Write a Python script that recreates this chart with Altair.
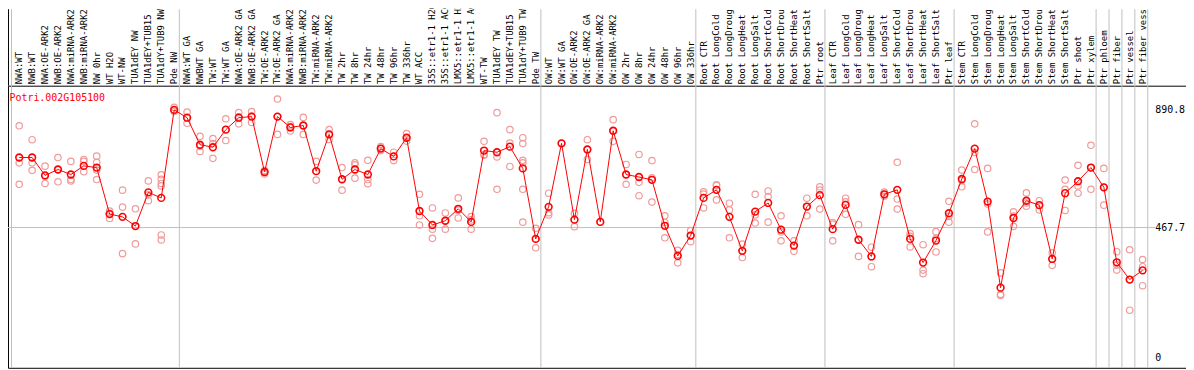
import altair as alt
import pandas as pd

labels = [
    "NWA:WT", "NWB:WT", "NWA:OE-ARK2", "NWB:OE-ARK2", "NWA:miRNA-ARK2", "NWB:miRNA-ARK2",
    "NW 0hr", "WT H2O", "WT-NW", "TUA1dEY NW", "TUA1dEY+TUB15", "TUA1dY+TUB9 NW", "Pde NW",
    "NWA:WT GA", "NWBWT GA", "TW:WT", "TW:WT GA", "NWA:OE-ARK2 GA", "NWB:OE-ARK2 GA",
    "TW:OE-ARK2", "TW:OE-ARK2 GA", "NWA:miRNA-ARK2", "NWB:miRNA-ARK2", "TW:miRNA-ARK2",
    "TW:miRNA-ARK2", "TW 2hr", "TW 8hr", "TW 24hr", "TW 48hr", "TW 96hr", "TW 336hr",
    "WT ACC", "35S::etr1-1 H2O", "35S::etr1-1 ACC", "LMX5::etr1-1 H2O", "LMX5::etr1-1 ACC",
    "WT-TW", "TUA1dEY TW", "TUA1dEY+TUB15", "TUA1dY+TUB9 TW", "Pde TW",
    "OW:WT", "OW:WT GA", "OW:OE-ARK2", "OW:OE-ARK2 GA", "OW:miRNA-ARK2", "OW:miRNA-ARK2",
    "OW 2hr", "OW 8hr", "OW 24hr", "OW 48hr", "OW 96hr", "OW 336hr",
    "Root CTR", "Root LongCold", "Root LongDroug", "Root LongHeat", "Root LongSalt",
    "Root ShortCold", "Root ShortDrou", "Root ShortHeat", "Root ShortSalt", "Ptr root",
    "Leaf CTR", "Leaf LongCold", "Leaf LongDroug", "Leaf LongHeat", "Leaf LongSalt",
    "Leaf ShortCold", "Leaf ShortDrou", "Leaf ShortHeat", "Leaf ShortSalt", "Ptr leaf",
    "Stem CTR", "Stem LongCold", "Stem LongDroug", "Stem LongHeat", "Stem LongSalt",
    "Stem ShortCold", "Stem ShortDrou", "Stem ShortHeat", "Stem ShortSalt", "Ptr shoot",
    "Ptr xylem", "Ptr phloem", "Ptr fiber", "Ptr vessel", "Ptr fiber vess",
]

means = [
    719, 719, 655, 676, 658, 689, 683, 516, 506, 473, 594, 574, 890,
    862, 765, 756, 819, 862, 866, 667, 866, 827, 834, 670, 802, 641, 676, 658,
    751, 723, 790, 527, 477, 492, 535, 488, 744, 738, 758, 680, 427,
    542, 770, 496, 748, 488, 815, 658, 649, 639, 474, 366, 439,
    574, 603, 506, 384, 525, 556, 460, 403, 543, 584,
    462, 549, 424, 364, 587, 603, 427, 342, 421, 519,
    642, 751, 561, 252, 502, 564, 548, 355, 591, 634, 683,
    612, 343, 281, 314,
]

replicates = [
    [833, 700, 623], [783, 700, 673], [688, 652, 626], [719, 676, 632],
    [705, 640, 635], [712, 705, 668], [724, 702, 674, 640], [527, 519, 500],
    [602, 541, 374], [535, 473, 409], [635, 585, 564], [657, 641, 626, 617, 441, 423],
    [899, 890, 884], [882, 862, 842], [795, 760, 741], [787, 769, 716],
    [858, 819, 780], [880, 865, 840], [884, 868, 845], [672, 667, 660],
    [929, 866, 802], [837, 830, 814], [863, 834, 802], [705, 670, 638],
    [819, 802, 784], [683, 640, 602], [700, 693, 645], [709, 640, 625],
    [758, 751, 744], [738, 723, 708], [805, 790, 778], [587, 510, 477],
    [538, 462, 429], [520, 492, 462], [574, 530, 502], [507, 495, 462],
    [777, 730, 727], [880, 721, 605], [819, 771, 687], [790, 769, 709, 700, 605, 487],
    [465, 427, 395], [591, 521, 513], [770], [519, 496, 471],
    [783, 748, 712], [488], [855, 815, 777], [694, 658, 623],
    [730, 630, 582], [708, 646, 559], [510, 486, 431], [386, 371, 341],
    [457, 439, 417], [596, 588, 538], [621, 619, 567], [555, 531, 431],
    [408, 384, 360], [587, 513, 484], [599, 579, 487], [510, 452, 420],
    [420, 403, 383], [573, 543, 510], [614, 602, 534], [486, 480, 420],
    [573, 560, 515], [478, 424, 364], [397, 364, 327], [595, 587, 580],
    [702, 570, 534], [446, 436, 398], [406, 315, 302], [453, 428, 380],
    [562, 508, 487], [674, 637, 614], [840, 737, 676], [680, 552, 452],
    [305, 228, 224], [524, 509, 472], [592, 556, 544], [564, 548, 531],
    [377, 355, 332], [638, 605, 529], [691, 617, 591], [763, 683, 605],
    [680, 612, 548], [381, 333, 315], [388, 281, 171], [353, 327, 259],
]

group_starts = [0, 13, 41, 53, 63, 73, 84, 85, 86, 87, 88]
axis_values = [890.8, 467.7, 0]
axis_texts = ["890.8", "467.7", "0"]
gene_name = "Potri.002G105100"

mean_df = pd.DataFrame({"idx": list(range(len(labels))), "label": labels, "value": means})
rep_rows = []
for i, reps in enumerate(replicates):
    for v in reps:
        rep_rows.append({"idx": i, "value": v})
rep_df = pd.DataFrame(rep_rows)
bound_df = pd.DataFrame({"b": [g - 0.6 for g in group_starts]})
yl_df = pd.DataFrame({"value": axis_values, "text": axis_texts})

MONO = "DejaVu Sans Mono"
xs = alt.Scale(domain=[-0.869, 90.362], nice=False, zero=False)
ys = alt.Scale(domain=[-35.65, 976.8], nice=False, zero=False)

vlines = alt.Chart(bound_df).mark_rule(color="#c0c0c0", strokeWidth=1).encode(
    x=alt.X("b:Q", scale=xs, axis=None),
    y=alt.value(-77),
    y2=alt.value(284),
)

hline = alt.Chart(pd.DataFrame({"value": [467.7]})).mark_rule(color="#c0c0c0", strokeWidth=1).encode(
    y=alt.Y("value:Q", scale=ys, axis=None),
    x=alt.value(0),
    x2=alt.value(1155),
)

left_border = alt.Chart(pd.DataFrame({"value": [0]})).mark_rule(color="black", strokeWidth=1).encode(
    x=alt.value(0.5),
    y=alt.value(-77),
    y2=alt.value(0),
)

rep_pts = alt.Chart(rep_df).mark_point(
    shape="circle", filled=False, color="#f09a9a", strokeWidth=1.2, size=42, opacity=1
).encode(
    x=alt.X("idx:Q", scale=xs, axis=None),
    y=alt.Y("value:Q", scale=ys, axis=None),
)

line = alt.Chart(mean_df).mark_line(color="#ff0000", strokeWidth=1).encode(
    x=alt.X("idx:Q", scale=xs, axis=None),
    y=alt.Y("value:Q", scale=ys, axis=None),
    order="idx:Q",
)

mean_pts = alt.Chart(mean_df).mark_point(
    shape="circle", filled=False, color="#ff0000", strokeWidth=1.6, size=46, opacity=1
).encode(
    x=alt.X("idx:Q", scale=xs, axis=None),
    y=alt.Y("value:Q", scale=ys, axis=None),
)

top_labels = alt.Chart(mean_df).mark_text(
    angle=270, align="left", baseline="middle", font=MONO, fontSize=9, color="black"
).encode(
    x=alt.X("idx:Q", scale=xs, axis=None),
    y=alt.value(-1.5),
    text="label:N",
)

gene = alt.Chart(pd.DataFrame({"t": [gene_name]})).mark_text(
    align="left", baseline="top", font=MONO, fontSize=10, color="#ff0000"
).encode(
    x=alt.value(1.5),
    y=alt.value(7.5),
    text="t:N",
)

ylabels = alt.Chart(yl_df).mark_text(
    align="left", baseline="middle", font=MONO, fontSize=10, color="black"
).encode(
    x=alt.value(1155),
    y=alt.Y("value:Q", scale=ys, axis=None),
    text="text:N",
)

chart = alt.layer(
    vlines, hline, left_border, rep_pts, line, mean_pts, top_labels, gene, ylabels
).properties(
    width=1186,
    height=284,
    autosize=alt.AutoSizeParams(type="none"),
    padding={"left": 0, "top": 77, "right": 0, "bottom": 1},
    background="white",
).configure_view(
    stroke="black", strokeWidth=1
)

chart.save("out.html", embed_options={"renderer": "svg", "actions": False})
